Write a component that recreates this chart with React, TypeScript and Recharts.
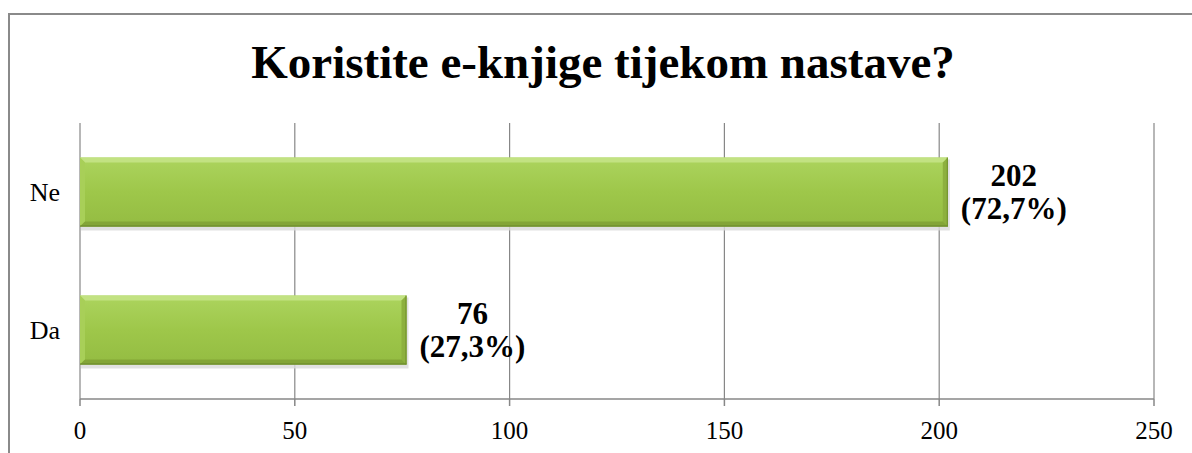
import React from 'react';
import { BarChart, Bar, XAxis, YAxis, CartesianGrid, LabelList } from 'recharts';

const categories = ['Ne', 'Da'];
const counts = [202, 76];
const percents = ['72,7%', '27,3%'];
const xTicks = [0, 50, 100, 150, 200, 250];
const title = 'Koristite e-knjige tijekom nastave?';

const data = categories.map((c, i) => ({ name: c, value: counts[i], pct: percents[i] }));

const FONT = '"Liberation Serif", "Times New Roman", serif';
const GRID = '#878787';

const BevelBar = (props: any) => {
  const { x, y, width, height } = props;
  if (width <= 0) return null;
  const b = 5;
  return (
    <g>
      <rect x={x + 1} y={y + 2} width={width + 1} height={height + 2} fill="#d9d9d9" opacity={0.8} />
      <rect x={x} y={y} width={width} height={height} fill="url(#barGrad)" />
      <polygon points={`${x},${y} ${x + width},${y} ${x + width - b},${y + b} ${x + b},${y + b}`} fill="#c2e282" />
      <polygon points={`${x},${y} ${x + b},${y + b} ${x + b},${y + height - b} ${x},${y + height}`} fill="#a8cf58" />
      <polygon points={`${x + width},${y} ${x + width},${y + height} ${x + width - b},${y + height - b} ${x + width - b},${y + b}`} fill="#8db03e" />
      <polygon points={`${x},${y + height} ${x + b},${y + height - b} ${x + width - b},${y + height - b} ${x + width},${y + height}`} fill="#83a537" />
      <line x1={x} y1={y + height - 0.5} x2={x + width} y2={y + height - 0.5} stroke="#66842a" strokeWidth={1} />
      <line x1={x + width - 0.5} y1={y} x2={x + width - 0.5} y2={y + height} stroke="#6f8f2c" strokeWidth={1} />
    </g>
  );
};

const ValueLabel = (props: any) => {
  const { x, y, width, height, index } = props;
  const cx = x + width + 66;
  const cy = y + height / 2;
  return (
    <g>
      <text x={cx} y={cy - 17} textAnchor="middle" dominantBaseline="central" fontFamily={FONT} fontWeight="bold" fontSize={31} fill="#000">
        {counts[index]}
      </text>
      <text x={cx} y={cy + 16} textAnchor="middle" dominantBaseline="central" fontFamily={FONT} fontWeight="bold" fontSize={31} fill="#000">
        ({percents[index]})
      </text>
    </g>
  );
};

const CatTick = (props: any) => {
  const { x, y, payload } = props;
  return (
    <text x={x + 3} y={y} textAnchor="end" dominantBaseline="central" fontFamily={FONT} fontSize={26} fill="#000">
      {payload.value}
    </text>
  );
};

export default function App() {
  return (
    <div style={{ position: 'absolute', left: 0, top: 0, width: 1192, height: 453, overflow: 'hidden', background: '#fff' }}>
      <div style={{ position: 'absolute', left: 8, top: 13, width: 1300, height: 600, border: '2px solid #8a8a8a' }} />
      <div
        style={{
          position: 'absolute',
          left: 0,
          top: 38.6,
          width: 1206,
          textAlign: 'center',
          fontFamily: FONT,
          fontWeight: 'bold',
          fontSize: 47,
          lineHeight: '47px',
          color: '#000',
          whiteSpace: 'nowrap',
        }}
      >
        {title}
      </div>
      <div style={{ position: 'absolute', left: 0, top: 0 }}>
        <BarChart
          width={1192}
          height={453}
          data={data}
          layout="vertical"
          margin={{ top: 123, right: 38, left: 0, bottom: 0 }}
          barCategoryGap="25%"
        >
          <defs>
            <linearGradient id="barGrad" x1="0" y1="0" x2="0" y2="1">
              <stop offset="0%" stopColor="#acd45e" />
              <stop offset="50%" stopColor="#9ec74a" />
              <stop offset="100%" stopColor="#94bc42" />
            </linearGradient>
          </defs>
          <CartesianGrid horizontal={false} vertical={true} stroke={GRID} strokeWidth={1.2} />
          <XAxis
            type="number"
            domain={[0, 250]}
            ticks={xTicks}
            height={54}
            axisLine={{ stroke: GRID, strokeWidth: 1.5 }}
            tickLine={{ stroke: GRID, strokeWidth: 1.5 }}
            tickSize={7}
            tickMargin={15}
            tick={{ fontFamily: FONT, fontSize: 25, fill: '#000' }}
            allowDecimals={false}
          />
          <YAxis
            yAxisId="grid"
            type="number"
            domain={[0, 2]}
            ticks={[0, 1, 2]}
            width={0}
            tick={false}
            tickSize={8}
            axisLine={{ stroke: GRID, strokeWidth: 1.5 }}
            tickLine={{ stroke: GRID, strokeWidth: 1.5 }}
          />
          <YAxis
            yAxisId="cat"
            type="category"
            dataKey="name"
            width={80}
            axisLine={false}
            tickLine={false}
            tickSize={0}
            tickMargin={23}
            tick={<CatTick />}
          />
          <Bar yAxisId="cat" dataKey="value" shape={<BevelBar />} isAnimationActive={false}>
            <LabelList dataKey="value" content={<ValueLabel />} />
          </Bar>
        </BarChart>
      </div>
    </div>
  );
}
